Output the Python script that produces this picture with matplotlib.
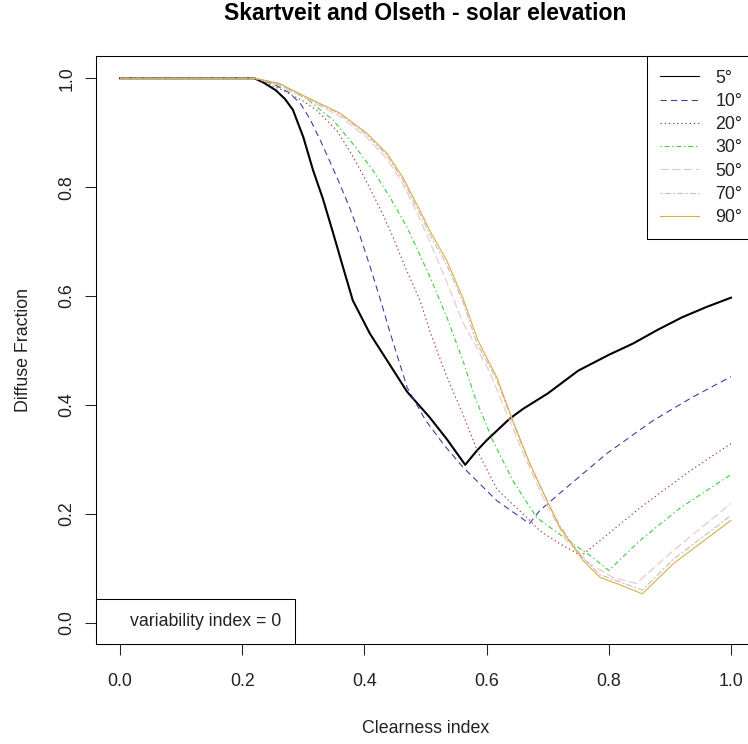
import matplotlib
matplotlib.use("Agg")
from matplotlib import pyplot as plt
from matplotlib.lines import Line2D

plt.rcParams['font.family'] = ['Liberation Sans', 'DejaVu Sans']
plt.rcParams['lines.scale_dashes'] = False

# clearness index / diffuse fraction, one pair per elevation
kt_5 = [0.0, 0.22, 0.235, 0.255, 0.27, 0.283, 0.30, 0.316, 0.332, 0.349, 0.365, 0.381, 0.409,
        0.437, 0.47, 0.507, 0.535, 0.565, 0.584, 0.60, 0.638, 0.66, 0.70, 0.75, 0.80, 0.84,
        0.88, 0.92, 0.96, 1.0]
fd_5 = [1.0, 1.0, 0.992, 0.978, 0.962, 0.942, 0.892, 0.831, 0.779, 0.715, 0.653, 0.592, 0.531,
        0.482, 0.424, 0.377, 0.337, 0.290, 0.316, 0.335, 0.375, 0.393, 0.421, 0.463, 0.492,
        0.513, 0.538, 0.561, 0.58, 0.597]

kt_10 = [0.0, 0.22, 0.25, 0.275, 0.295, 0.311, 0.327, 0.344, 0.36, 0.376, 0.393, 0.409, 0.426,
         0.442, 0.47, 0.50, 0.53, 0.561, 0.617, 0.67, 0.687, 0.72, 0.797, 0.872, 0.935, 1.0]
fd_10 = [1.0, 1.0, 0.99, 0.975, 0.954, 0.925, 0.888, 0.846, 0.805, 0.762, 0.71, 0.655, 0.594,
         0.533, 0.432, 0.372, 0.327, 0.286, 0.224, 0.182, 0.206, 0.238, 0.311, 0.371, 0.413, 0.452]

kt_20 = [0.0, 0.22, 0.267, 0.30, 0.322, 0.355, 0.381, 0.404, 0.426, 0.447, 0.466, 0.491, 0.507,
         0.529, 0.545, 0.561, 0.584, 0.617, 0.666, 0.687, 0.72, 0.755, 0.80, 0.851, 0.933, 1.0]
fd_20 = [1.0, 1.0, 0.978, 0.958, 0.941, 0.904, 0.857, 0.809, 0.76, 0.708, 0.655, 0.592, 0.536,
         0.469, 0.425, 0.384, 0.318, 0.245, 0.193, 0.169, 0.145, 0.123, 0.164, 0.211, 0.279, 0.329]

kt_30 = [0.0, 0.22, 0.26, 0.306, 0.349, 0.381, 0.414, 0.442, 0.47, 0.491, 0.507, 0.535, 0.561,
         0.581, 0.61, 0.643, 0.682, 0.741, 0.769, 0.80, 0.851, 0.917, 1.0]
fd_30 = [1.0, 1.0, 0.988, 0.962, 0.923, 0.880, 0.831, 0.781, 0.726, 0.675, 0.636, 0.561, 0.482,
         0.414, 0.335, 0.261, 0.193, 0.145, 0.124, 0.096, 0.151, 0.211, 0.272]

kt_50 = [0.0, 0.22, 0.26, 0.306, 0.36, 0.404, 0.437, 0.463, 0.48, 0.507, 0.535, 0.561, 0.584,
         0.606, 0.633, 0.66, 0.687, 0.699, 0.731, 0.769, 0.807, 0.845, 0.905, 1.0]
fd_50 = [1.0, 1.0, 0.989, 0.962, 0.930, 0.891, 0.852, 0.806, 0.768, 0.700, 0.625, 0.552, 0.505,
         0.458, 0.384, 0.311, 0.243, 0.215, 0.151, 0.108, 0.083, 0.072, 0.132, 0.219]

kt_70 = [0.0, 0.22, 0.26, 0.306, 0.36, 0.404, 0.437, 0.463, 0.491, 0.507, 0.535, 0.561, 0.584,
         0.617, 0.643, 0.671, 0.699, 0.72, 0.758, 0.786, 0.813, 0.855, 0.905, 1.0]
fd_70 = [1.0, 1.0, 0.99, 0.964, 0.934, 0.896, 0.858, 0.813, 0.751, 0.713, 0.657, 0.590, 0.514,
         0.445, 0.367, 0.290, 0.224, 0.178, 0.118, 0.088, 0.077, 0.060, 0.116, 0.197]

kt_90 = [0.0, 0.22, 0.26, 0.306, 0.36, 0.404, 0.437, 0.463, 0.491, 0.507, 0.535, 0.561, 0.586,
         0.617, 0.643, 0.671, 0.699, 0.72, 0.758, 0.786, 0.813, 0.855, 0.905, 1.0]
fd_90 = [1.0, 1.0, 0.991, 0.965, 0.936, 0.899, 0.862, 0.818, 0.757, 0.720, 0.665, 0.597, 0.518,
         0.450, 0.371, 0.292, 0.224, 0.175, 0.114, 0.083, 0.072, 0.053, 0.108, 0.188]

labels = ['5°', '10°', '20°', '30°', '50°', '70°', '90°']
colors = ['black', '#3F3FA0', '#B03A3A', '#3ACF3A', '#EBC3C8', '#C0C0C0', '#DDAE45']
styles = ['-', (0, (4.5, 3)), (0, (1, 2)), (0, (1, 2, 3.5, 2)), (0, (6, 2.5)),
          (0, (1.5, 1.5, 4.5, 1.5)), '-']
widths = [1.5, 0.8, 0.8, 0.8, 0.8, 0.8, 0.8]

ticks = [0.0, 0.2, 0.4, 0.6, 0.8, 1.0]
tick_labels = ['0.0', '0.2', '0.4', '0.6', '0.8', '1.0']

fig = plt.figure(figsize=(7.48, 7.44), dpi=100)
ax = fig.add_axes([0.12775, 0.13374, 0.88219, 0.79032])

series = [(kt_5, fd_5), (kt_10, fd_10), (kt_20, fd_20), (kt_30, fd_30),
          (kt_50, fd_50), (kt_70, fd_70), (kt_90, fd_90)]
for (kt, fd), c, ls, lw in zip(series, colors, styles, widths):
    ax.plot(kt, fd, color=c, linestyle=ls, linewidth=lw)

ax.set_xlim(-0.04, 1.04)
ax.set_ylim(-0.04, 1.04)
ax.set_xticks(ticks, labels=tick_labels)
ax.set_yticks(ticks, labels=tick_labels)
for s in ax.spines.values():
    s.set_linewidth(0.75)
    s.set_color('black')
ax.tick_params(length=8, width=0.75, labelsize=12.8, colors='#222222')
ax.tick_params(axis='x', pad=12.3)
ax.tick_params(axis='y', pad=6.5)
for t in ax.get_yticklabels():
    t.set_rotation(90)
    t.set_va('center')

ax.set_title('Skartveit and Olseth - solar elevation', fontsize=16.6, fontweight='bold', pad=26.5)
ax.set_xlabel('Clearness index', fontsize=12.8, labelpad=22, color='#222222')
ax.set_ylabel('Diffuse Fraction', fontsize=12.8, labelpad=19, color='#222222')

# legend keys are drawn thin, as in the reference
handles = [Line2D([], [], color=c, linestyle=ls, linewidth=0.8) for c, ls in zip(colors, styles)]
leg = ax.legend(handles, labels, loc='upper right', bbox_to_anchor=(1, 1), borderaxespad=0,
                fontsize=12.8, handlelength=2.2, handletextpad=0.9, borderpad=0.74,
                labelspacing=0.352, fancybox=False, framealpha=1, edgecolor='black')
leg.get_frame().set_linewidth(0.75)
for t in leg.get_texts():
    t.set_color('#222222')
ax.add_artist(leg)

leg2 = ax.legend([Line2D([], [], linestyle='none')], ['variability index = 0'], loc='lower left',
                 bbox_to_anchor=(0, 0), borderaxespad=0, fontsize=12.8, handlelength=0.5,
                 handletextpad=0.62, borderpad=0.8, fancybox=False, framealpha=1,
                 edgecolor='black')
leg2.get_frame().set_linewidth(0.75)
for t in leg2.get_texts():
    t.set_color('#222222')

fig.savefig('out.png', dpi=100)
